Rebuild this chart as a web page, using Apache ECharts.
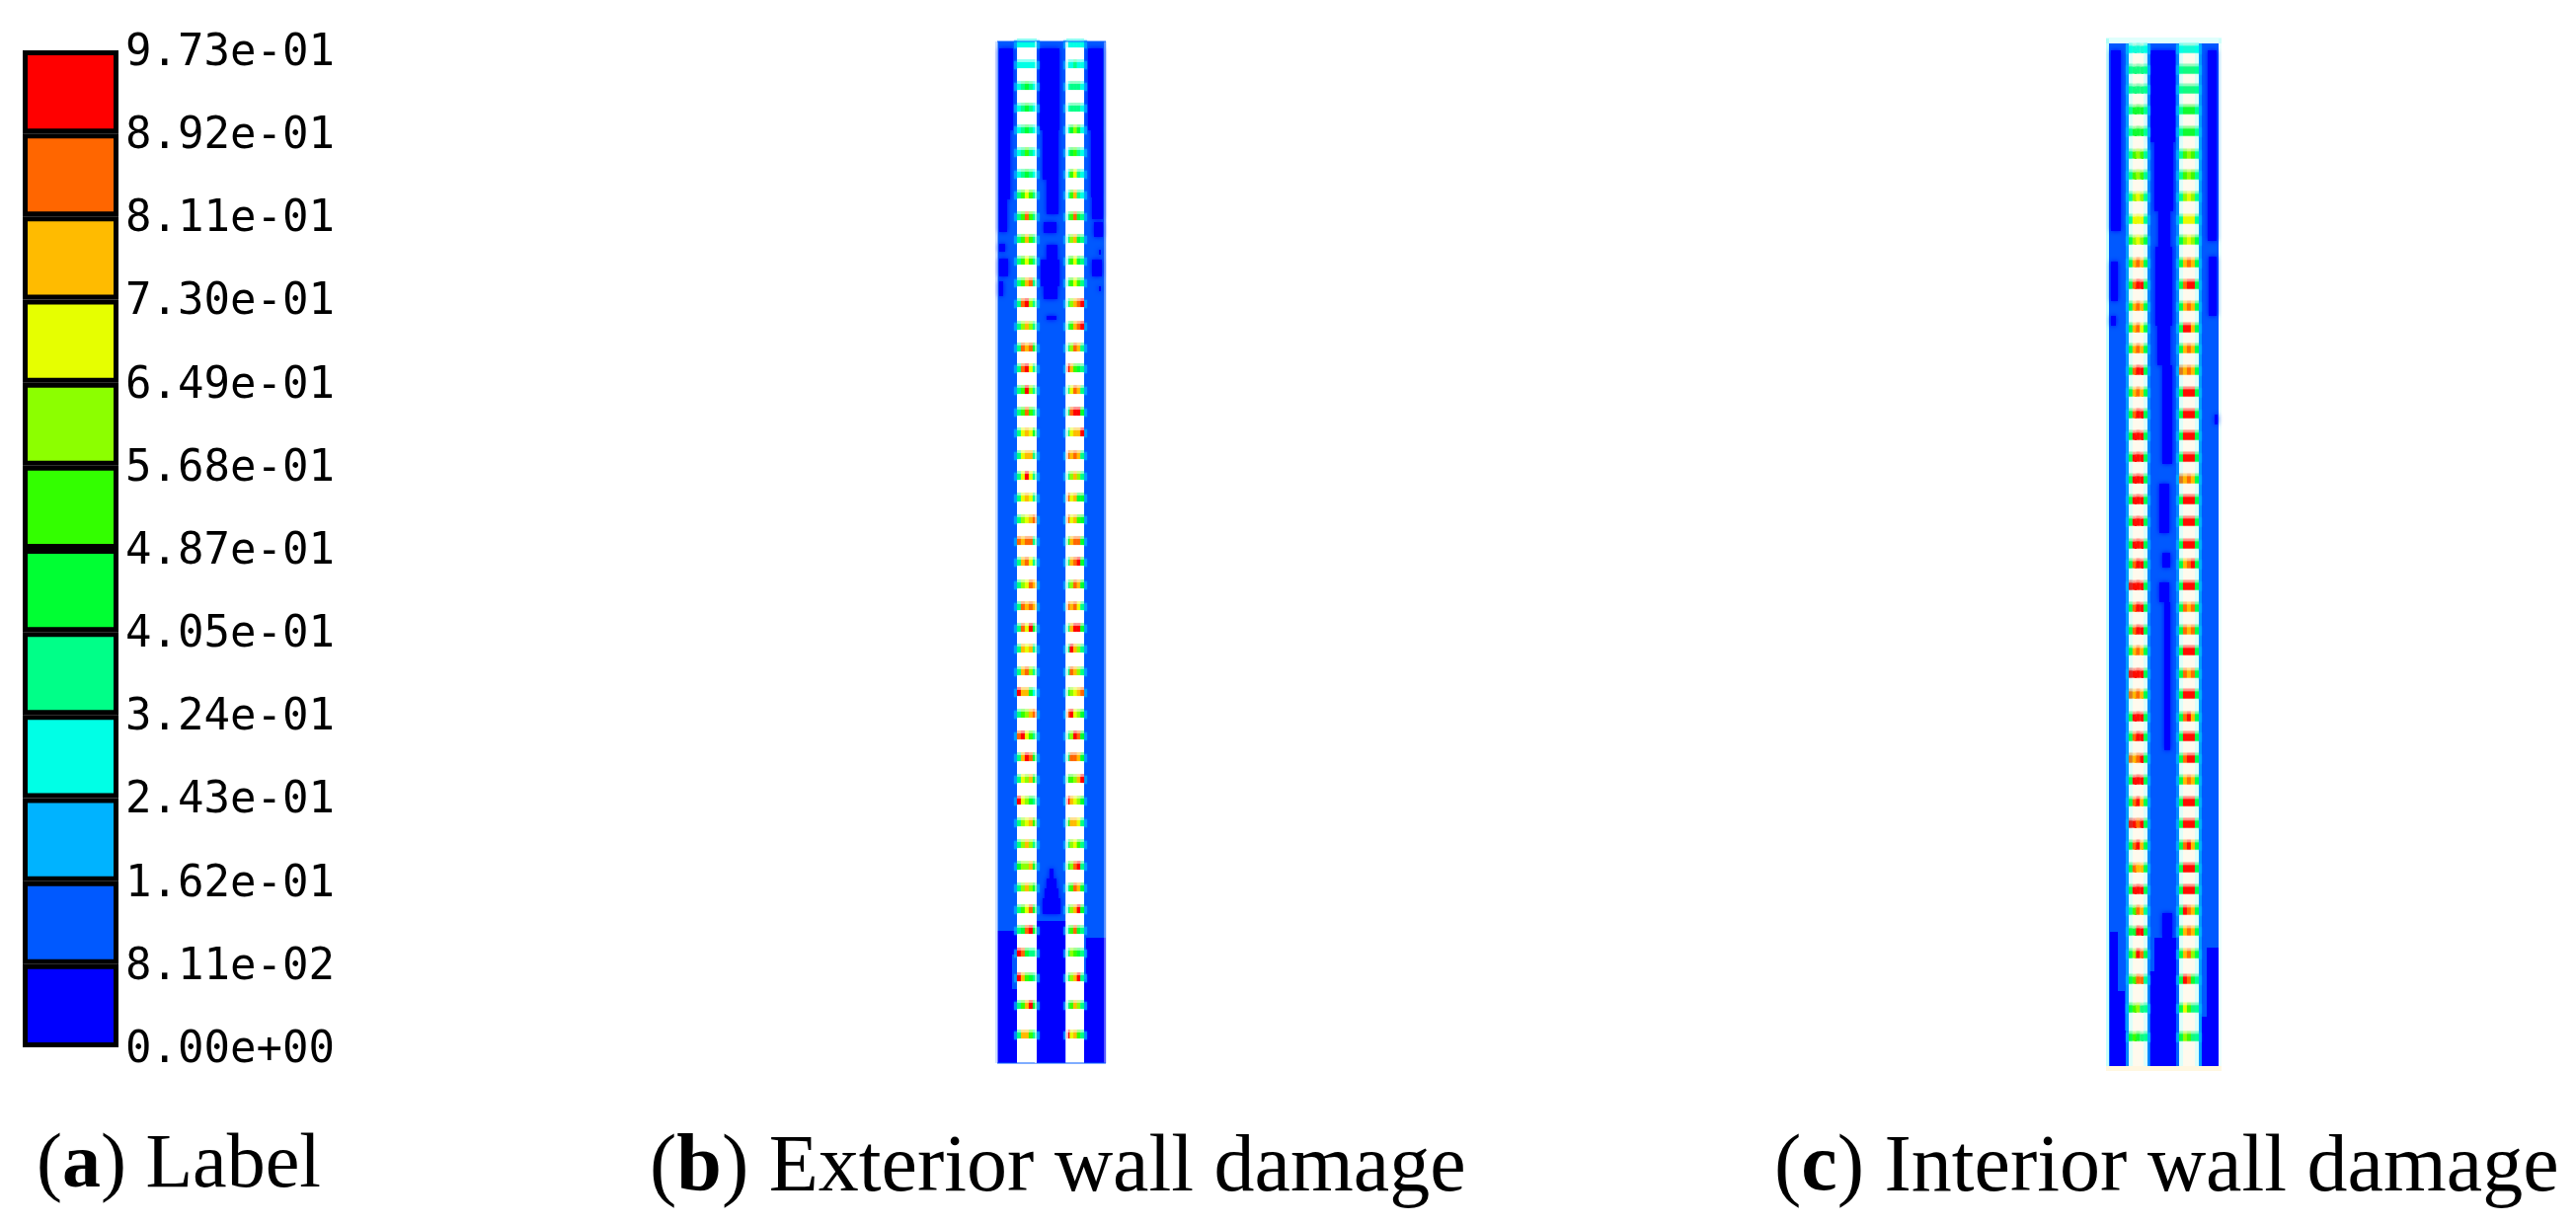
<!DOCTYPE html>
<html><head><meta charset="utf-8">
<style>html,body{margin:0;background:#fff}#c{width:2609px;height:1240px}</style>
<script src="https://cdn.jsdelivr.net/npm/echarts@6/dist/echarts.min.js"></script></head>
<body><div id="c"></div>
<script>
const levelColors = ['#0000ff','#0059ff','#00b3ff','#00ffe6','#00ff88','#00ff33','#33ff00','#8cff00','#e6ff00','#ffbb00','#ff6600','#ff0000','#ffffff'];
const legendBins = [1,1,1,1,1,1,1,1,1,1,1,1];
const tickLabels = ['0.00e+00','8.11e-02','1.62e-01','2.43e-01','3.24e-01','4.05e-01','4.87e-01','5.68e-01','6.49e-01','7.30e-01','8.11e-01','8.92e-01','9.73e-01'];
const beamDepthB = [3,24,46,68,90,113,135,156,178,201,223,245,266,289,311,332,354,376,397,420,441,463,485,507,528,551,573,595,616,639,660,682,704,726,748,770,792,814,836,858,880,901,924,949,977,1007];
const beamLeftB = ['33333','33333','34543','34543','34543','34643','34543','46864','46a64','46964','46864','469a4','4ab74','47974','4a9a5','4ab84','46b74','46a64','48985','48994','48b84','48984','4789a','a9aa4','49a84','478a9','4a9a9','4a8b5','49894','49a74','b9953','4679a','ab864','49ba5','48795','b8754','47896','47974','57795','47975','468a5','45ab5','ba544','b9654','469b5','49964'];
const beamRightB = ['33333','33433','34443','34443','35753','35643','36843','36943','46a54','47954','46854','46864','479ab','469ab','47a94','b9654','48a94','4abb5','4899b','a9a94','47974','a8955','a8965','59aa5','49ab5','47a95','a9a84','49bb5','4b974','4a974','5789a','ab875','47ba5','4aa95','5679b','b9875','59984','47864','57ab4','46a95','479b5','46a54','47654','479b4','46974','b8964'];
const pierPatchesB = [
 [0,20,0,1035,1],[40,69.5,0,1035,1],[88,110,0,1035,1],
 [2,16,7,90,0],[2,13,90,160,0],[2,10,160,193,0],[2,8,205,213,0],[2,11,220,238,0],[2,6,243,258,0],
 [43,63,7,90,0],[46,62,90,140,0],[50,62,140,175,0],[47,60,183,194,0],[50,61,206,221,0],[44,63,221,248,0],[47,61,248,261,0],[50,60,278,282,0],
 [92,107,7,90,0],[95,107,90,158,0],[96,107,158,180,0],[98,107,183,198,0],[103,105,211,216,0],[96,106,221,238,0],[103,105,248,253,0],
 [53,57,838,848,0],[50,60,848,858,0],[48,62,858,868,0],[46,64,868,884,0],
 [0,20,901,925,0,0],[0,15,925,960,0,0],[0,20,960,1035,0,0],[40,69.5,891,1035,0,0],[90,110,908,950,0,0],[88,110,950,1035,0,0]
];
const edgePatchesB = [[-2,0,0,1035,1,.2],[0,1,0,1035,12,.45],[69,72,0,1035,12,.72],[108,110,0,1035,12,.35],[110,111,0,1035,1,.15],[0,110,-1,1,1,.45],[0,110,1034,1036,1,.5],[38,40,0,1035,12,.55]];
const beamDepthC = [6,27,47,68,90,113,134,156,179,200,223,245,267,289,310,332,354,376,398,420,442,463,485,508,528,550,572,595,616,639,660,683,703,725,747,769,791,813,836,858,879,900,923,949,978,1007];
const beamLeftC = ['33333','44444','44444','45554','45554','46764','46764','47874','48884','57875','59a95','5abb5','59a95','59a85','59a95','5abb5','59a95','5abb5','5bbb5','5bbb5','5bbb5','5bbb5','5bbb5','5bbb5','5abb5','bbbb5','5abb5','5abb5','59a95','bbbb5','a9a95','5bbb5','5abb5','a9ab5','5bbb5','5ab95','bbab5','5ab95','5a995','5bbb5','46a94','55bb5','57ba5','56aa4','56744','56544'];
const beamRightC = ['33333','44444','44444','45554','45554','46764','46764','47874','48884','57875','59a95','5abb5','59a95','5bb95','59a95','a9a95','5bbb5','5bbb5','5bbb5','5bbb5','a9a95','5bbb5','5bbb5','5bbb5','59ab5','5bbb5','5a9a5','5a9a5','5bbb5','5a9a5','5bbb5','5ab95','5bbb5','5abb5','59a95','5bbb5','5bbb5','5ab95','5bbb5','5bbb5','5ba95','59a95','59a75','5ba54','58644','57644'];
const pierPatchesC = [
 [0,20,0,1036,1],[39,71,0,1036,1],[91,111,0,1036,1],
 [2,12,7,190,0],[2,9,221,261,0],[2,7,276,286,0],
 [42,67,7,100,0],[46,65,100,170,0],[50,62,170,206,0],[47,64,206,286,0],[49,62,286,326,0],[54,64,326,426,0],[51,61,446,496,0],[54,62,516,531,0],[51,61,546,566,0],[56,62,566,716,0],
 [100,109,7,200,0],[101,109,216,276,0],[107,110,376,386,0],
 [54,64,881,906,0],[46,71,906,940,0,0],[41,71,940,1036,0,0],
 [1,9,900,960,0,0],[1,16,960,1000,0,0],[1,20,1000,1036,0,0],[99,111,916,986,0,0],[94,111,986,1036,0,0]
];
const edgePatchesC = [[-3,0,-5,1036,3,.22],[17,20,0,1036,2,.75],[39,42,0,1036,2,.55],[68,71,0,1036,2,.55],[91,94,0,1036,2,.75],[20,24,0,1036,3,.14],[35,39,0,1036,3,.14],[71,75,0,1036,3,.14],[87,91,0,1036,3,.14],[24,35,0,1036,9,.07],[75,87,0,1036,9,.07],[-3,114,-6,0,3,.12],[-3,114,1036,1041,9,.12],[111,114,-5,1036,3,.08]];
const ORIGIN = { b:[20,40,70,88], c:[20,39,71,91] };
function wallMarks(patches, edges, depths, left, right, bays, h) {
  const m = patches.map(p => [p[0],p[1],p[2],p[3],p[4],1,p[5]!==undefined?p[5]:(p[4]===0?5:0)]);
  const addBay = (x0, x1, codes) => {
    depths.forEach((d, i) => {
      const lv = codes[i].split('').map(c => parseInt(c, 16));
      m.push([x0-3, x0, d-h*0.7, d+h*0.7, 2, .55, 2]);
      m.push([x1, x1+3, d-h*0.7, d+h*0.7, 2, .55, 2]);
      const w = (x1-x0)/lv.length;
      lv.forEach((l, j) => {
        m.push([x0+j*w, x0+(j+1)*w, d-h/2-3, d-h/2, l, .25, 1]);
        m.push([x0+j*w, x0+(j+1)*w, d-h/2, d+h/2, l, 1, 1]);
      });
    });
  };
  addBay(bays[0], bays[1], left);
  addBay(bays[2], bays[3], right);
  edges.forEach(p => m.push([p[0],p[1],p[2],p[3],p[4],p[5],0]));
  return m;
}
const renderPatch = (params, api) => {
  const a = api.coord([api.value(0), api.value(2)]);
  const b = api.coord([api.value(1), api.value(3)]);
  const col = levelColors[api.value(4)];
  return { type:'rect', shape:{x:a[0], y:a[1], width:b[0]-a[0], height:b[1]-a[1]},
    style:{fill:col, opacity:api.value(5), shadowBlur:api.value(6), shadowColor:col} };
};
const wallSeries = (idx, data) => ({ type:'custom', xAxisIndex:idx, yAxisIndex:idx, clip:false, silent:true,
  progressive:0, encode:{x:[0,1], y:[2,3]}, renderItem:renderPatch, data });
const caption = (left, key, text, size) => ({ left, top:1143, padding:0, text:`{t|(}{k|${key}}{t|) ${text}}`,
  textStyle:{ fontWeight:'normal', rich:{ t:{fontFamily:'Liberation Serif', fontSize:size, fontWeight:'normal', color:'#000'}, k:{fontFamily:'Liberation Serif', fontSize:size, fontWeight:'bold', color:'#000'} } } });
const hiddenVal = (min, max, inverse) => ({ type:'value', min, max, inverse, show:false, splitLine:{show:false} });
const chart = echarts.init(document.getElementById('c'), null, {renderer:'canvas'});
chart.setOption({
  animation:false, backgroundColor:'#fff',
  title:[caption(37,'a','Label',78), caption(658,'b','Exterior wall damage',82), caption(1797,'c','Interior wall damage',82)],
  grid:[
    {left:23, top:51, width:97, height:1010},
    {left:1010, top:42, width:110, height:1035},
    {left:2136, top:44, width:111, height:1036}
  ],
  xAxis:[
    {type:'category', gridIndex:0, data:[''], show:false},
    Object.assign(hiddenVal(0,110), {gridIndex:1}),
    Object.assign(hiddenVal(0,111), {gridIndex:2})
  ],
  yAxis:[
    {type:'value', gridIndex:0, position:'right', min:0, max:12, interval:1, splitLine:{show:false},
     axisLine:{show:false}, axisTick:{show:false},
     axisLabel:{show:true, margin:7, formatter:v => `{n|${tickLabels[v]}}`,
       rich:{n:{color:'#000', fontFamily:'DejaVu Sans Mono', fontSize:44, padding:[7,0,0,0]}}}},
    Object.assign(hiddenVal(0,1035,true), {gridIndex:1}),
    Object.assign(hiddenVal(0,1036,true), {gridIndex:2})
  ],
  series:[
    ...legendBins.map((v,i) => ({ type:'bar', stack:'legend', xAxisIndex:0, yAxisIndex:0, barWidth:'100%', clip:true, silent:true,
      itemStyle:{color:levelColors[i], borderColor:'#000', borderWidth:5}, data:[v] })),
    wallSeries(1, wallMarks(pierPatchesB, edgePatchesB, beamDepthB, beamLeftB, beamRightB, ORIGIN.b, 6)),
    wallSeries(2, wallMarks(pierPatchesC, edgePatchesC, beamDepthC, beamLeftC, beamRightC, ORIGIN.c, 7))
  ]
});
</script></body></html>
